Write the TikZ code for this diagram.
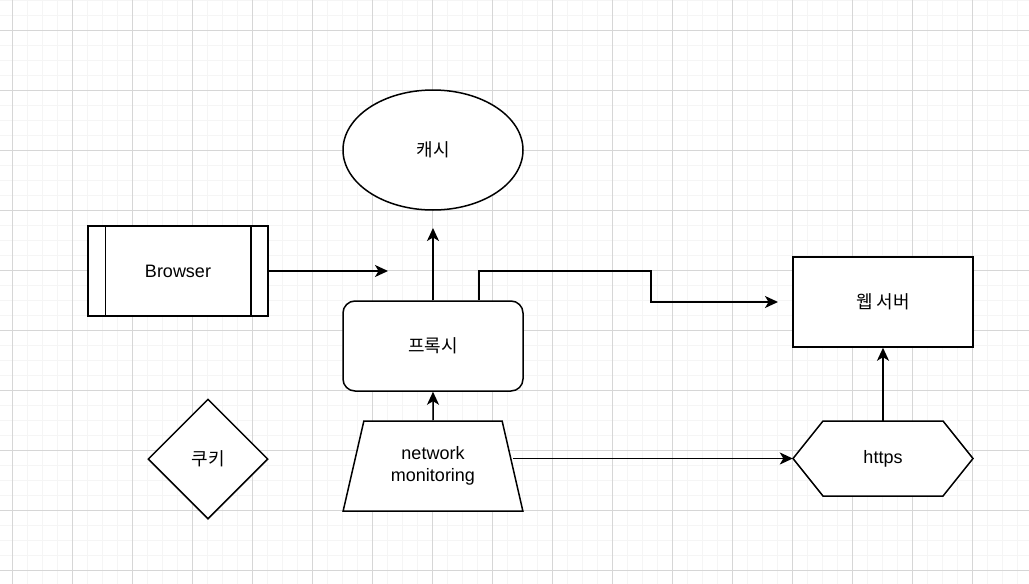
\documentclass[tikz,border=0pt]{standalone}
\usepackage{fontspec}
\setmainfont{Liberation Sans}
\newfontfamily\kr{Noto Sans CJK KR}
\usetikzlibrary{shapes.geometric,arrows.meta}

\begin{document}
\begin{tikzpicture}[x=1pt,y=-1pt,
    every node/.style={font=\fontsize{18}{22}\selectfont},
    box/.style={draw,line width=1.5pt,minimum width=180pt,minimum height=90pt,inner sep=0pt,fill=white},
    link/.style={line width=1.5pt,-{Stealth[length=13pt,width=12pt,inset=3.5pt]}},
    minorline/.style={color=black!4,line width=1pt},
    majorline/.style={color=black!16,line width=1pt}]
    \fill[white] (0,0) rectangle (1029,584);
    \useasboundingbox (0,0) rectangle (1029,584);

    % background grid
    \foreach \gx in {12,27,...,1029} \draw[minorline] (\gx,0)--(\gx,584);
    \foreach \gy in {0,15,...,584} \draw[minorline] (0,\gy)--(1029,\gy);
    \foreach \gx in {12,72,...,1029} \draw[majorline] (\gx,0)--(\gx,584);
    \foreach \gy in {30,90,...,584} \draw[majorline] (0,\gy)--(1029,\gy);

    \node[box,ellipse,minimum height=120pt] (cache) at (433,150) {\kr 캐시};
    \node[box] (browser) at (178,271) {Browser};
    \draw[line width=1.5pt] ([xshift=18pt]browser.north west)--([xshift=18pt]browser.south west);
    \draw[line width=1.5pt] ([xshift=-18pt]browser.north east)--([xshift=-18pt]browser.south east);
    \node[box,rounded corners=12pt] (proxy) at (433,346) {\kr 프록시};
    \node[box] (websrv) at (883,302) {\kr 웹 서버};
    \node[box,trapezium,trapezium stretches=true,trapezium left angle=72,
      trapezium right angle=72,align=center] (netmon) at (433,466) {network\\monitoring};
    \node[box,diamond,minimum width=120pt,minimum height=120pt] (cookie) at (208,459) {\kr 쿠키};

    % hexagon for https
    \draw[line width=1.5pt,fill=white,shift={(883,458.5)}]
      (-90,0)--(-60,-37.5)--(60,-37.5)--(90,0)--(60,37.5)--(-60,37.5)--cycle;
    \node[minimum width=180pt,minimum height=75pt,inner sep=0pt] (https) at (883,458.5) {https};

    \coordinate (proxyin) at (388,271);
    \coordinate (cacheup) at (433,228);
    \coordinate (webin) at (778,302);

    \draw[link] (browser.east)--(proxyin);
    \draw[link] (proxy.north)--(cacheup);
    \draw[link] ([xshift=46pt]proxy.north) |- (651,271) |- (webin);
    \draw[link] (netmon.north)--(proxy.south);
    \draw[link] (netmon.east |- https.west)--(https.west);
    \draw[link] (https.north)--(websrv.south);
\end{tikzpicture}
\end{document}
